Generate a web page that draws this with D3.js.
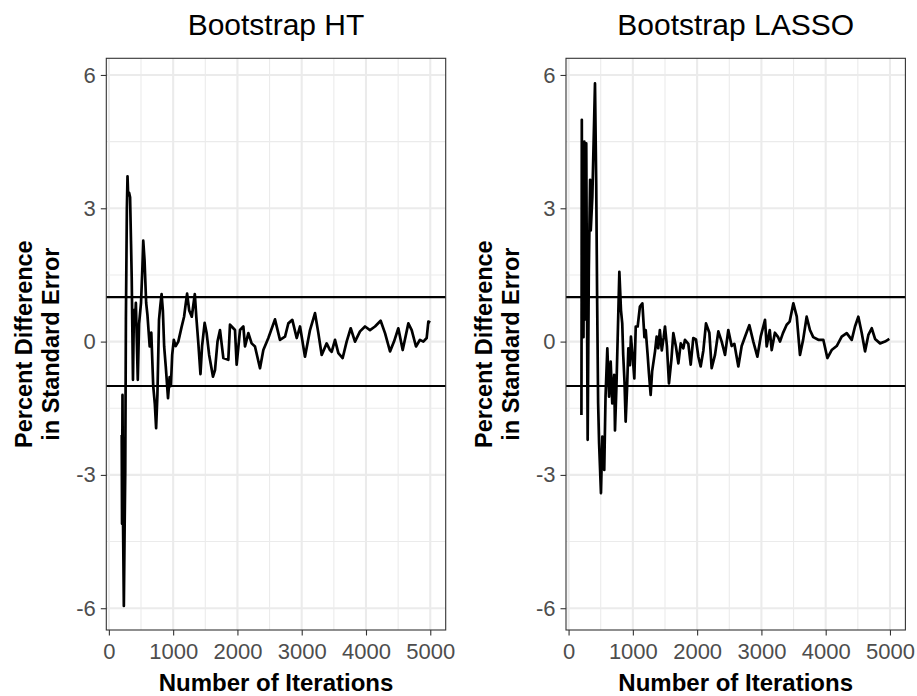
<!DOCTYPE html>
<html>
<head>
<meta charset="utf-8">
<script src="https://cdn.jsdelivr.net/npm/d3@7/dist/d3.min.js"></script>
<style>
  html, body { margin: 0; padding: 0; background: #fff; }
  svg { display: block; font-family: "Liberation Sans", Arial, Helvetica, sans-serif; }
</style>
</head>
<body>
<svg id="chart" width="917" height="696"></svg>
<script>
// ---- data ----
const panelTitles = ["Bootstrap HT", "Bootstrap LASSO"];
const xTicks = [0, 1000, 2000, 3000, 4000, 5000];
const xMinor = [500, 1500, 2500, 3500, 4500];
const yTicks = [-6, -3, 0, 3, 6];
const yMinor = [-4.5, -1.5, 1.5, 4.5];
const refLines = [-1, 1];
const xTitle = "Number of Iterations";
const yTitleLines = ["Percent Difference", "in Standard Error"];

const iterHT = [200,205,212,220,233,245,255,265,280,290,300,315,330,345,355,375,390,405,420,450,470,500,520,535,555,580,600,635,660,690,715,735,755,780,800,820,840,860,885,920,945,965,985,1010,1040,1080,1130,1170,1200,1217,1250,1290,1337,1360,1390,1425,1450,1490,1520,1560,1620,1651,1690,1729,1781,1858,1884,1962,1988,2040,2092,2118,2170,2221,2273,2351,2403,2481,2584,2662,2740,2792,2854,2922,2974,3051,3129,3207,3259,3311,3388,3440,3466,3518,3570,3637,3699,3762,3829,3907,3985,4062,4140,4228,4296,4374,4436,4503,4571,4659,4711,4778,4840,4892,4944,4970,5000];
const diffHT = [-2.1,-4.1,-1.2,-4.0,-5.95,-4.2,-2.9,0.5,3.0,3.72,3.3,3.35,3.25,2.2,1.46,-0.86,0.71,0.4,0.87,-0.86,0.4,0.87,1.6,2.27,1.83,0.87,0.6,-0.11,0.2,-1.0,-1.4,-1.95,-1.2,0.49,0.8,1.07,0.7,-0.11,-0.56,-1.27,-0.8,-1.0,-0.3,0.04,-0.1,0.0,0.32,0.56,0.9,1.08,0.7,0.56,1.07,0.56,0.0,-0.73,-0.1,0.42,0.2,-0.3,-0.79,-0.64,0.0,0.26,-0.37,-0.41,0.38,0.26,-0.52,0.26,0.34,-0.11,0.19,-0.04,-0.11,-0.6,-0.19,0.08,0.5,0.04,0.11,0.41,0.49,0.08,0.34,-0.34,0.26,0.64,0.19,-0.3,-0.04,-0.19,-0.23,0.04,-0.26,-0.37,0.0,0.3,0.0,0.23,0.34,0.26,0.34,0.47,0.19,-0.22,0.0,0.3,-0.19,0.41,0.26,-0.11,0.04,0.0,0.08,0.45,0.43];

const iterLASSO = [200,203,206,212,222,232,245,262,275,297,315,335,345,370,411,430,445,460,475,504,525,555,575,603,630,655,680,710,722,745,775,790,815,835,850,870,888,910,930,955,970,995,1023,1045,1075,1110,1148,1180,1200,1230,1250,1277,1300,1345,1370,1395,1420,1450,1480,1500,1530,1562,1600,1630,1670,1708,1745,1785,1811,1863,1900,1940,1982,2019,2055,2097,2138,2190,2226,2278,2330,2382,2434,2485,2537,2579,2641,2693,2745,2812,2874,2937,2989,3056,3082,3130,3160,3210,3260,3289,3335,3393,3440,3497,3550,3600,3650,3704,3755,3806,3885,3963,4026,4093,4171,4249,4327,4405,4456,4508,4560,4612,4664,4716,4768,4846,4923,4990];
const diffLASSO = [-1.65,0.9,4.99,0.86,4.4,0.1,4.5,0.5,4.46,-2.21,1.61,3.64,2.5,3.26,5.81,3.56,0.86,-1.39,-2.29,-3.41,-2.14,-2.89,-1.24,-0.15,-1.24,-0.45,-1.39,-0.75,-2.0,-1.0,0.71,1.57,0.71,0.41,-0.3,-0.9,-1.8,-1.05,-0.15,-0.53,0.11,-0.3,-0.83,0.34,0.34,0.79,0.86,0.1,0.26,-0.3,-0.71,-1.2,-0.67,-0.22,0.11,-0.15,0.26,-0.2,0.1,0.34,-0.1,-0.94,-0.4,0.19,-0.11,-0.49,-0.04,-0.15,0.04,-0.05,-0.52,0.08,0.05,-0.34,-0.56,-0.2,0.41,0.2,-0.6,-0.3,0.23,0.0,-0.3,0.26,-0.1,-0.05,-0.56,-0.1,0.11,0.37,0.0,-0.34,0.11,0.49,-0.11,0.26,-0.19,0.2,0.1,0.0,0.19,0.38,0.45,0.86,0.56,-0.3,0.05,0.56,0.26,0.1,0.04,0.04,-0.37,-0.19,-0.1,0.11,0.19,0.04,0.34,0.56,0.2,-0.22,0.15,0.3,0.06,-0.04,0.0,0.06];

const panelIters = [iterHT, iterLASSO];
const panelDiffs = [diffHT, diffLASSO];

// ---- layout ----
const svg = d3.select("#chart");
const W = 917, H = 696;
svg.append("rect").attr("width", W).attr("height", H).attr("fill", "#fff");

const panelW = 339.4, panelH = 571.7, panelTop = 58.3;
const panelLefts = [106.3, 566.0];

const x = d3.scaleLinear().domain([-40, 5240]).range([0, panelW]);
const y = d3.scaleLinear().domain([-6.49, 6.375]).range([panelH, 0]);

const gridColor = "#EBEBEB";
const txtColor = "#4D4D4D";

panelLefts.forEach((left, i) => {
  const g = svg.append("g").attr("transform", `translate(${left},${panelTop})`);

  // minor grid
  g.selectAll(".vminor").data(xMinor).enter().append("line")
    .attr("x1", d => x(d)).attr("x2", d => x(d)).attr("y1", 0).attr("y2", panelH)
    .attr("stroke", gridColor).attr("stroke-width", 1.1);
  g.selectAll(".hminor").data(yMinor).enter().append("line")
    .attr("x1", 0).attr("x2", panelW).attr("y1", d => y(d)).attr("y2", d => y(d))
    .attr("stroke", gridColor).attr("stroke-width", 1.1);
  // major grid
  g.selectAll(".vmajor").data(xTicks).enter().append("line")
    .attr("x1", d => x(d)).attr("x2", d => x(d)).attr("y1", 0).attr("y2", panelH)
    .attr("stroke", gridColor).attr("stroke-width", 2.1);
  g.selectAll(".hmajor").data(yTicks).enter().append("line")
    .attr("x1", 0).attr("x2", panelW).attr("y1", d => y(d)).attr("y2", d => y(d))
    .attr("stroke", gridColor).attr("stroke-width", 2.1);

  // reference lines
  g.selectAll(".ref").data(refLines).enter().append("line")
    .attr("x1", 0).attr("x2", panelW).attr("y1", d => y(d)).attr("y2", d => y(d))
    .attr("stroke", "#000").attr("stroke-width", 2.1);

  // data line
  const its = panelIters[i], vals = panelDiffs[i];
  const pts = its.map((it, k) => [it, vals[k]]);
  const line = d3.line().x(d => x(d[0])).y(d => y(d[1]));
  g.append("path").datum(pts).attr("d", line)
    .attr("fill", "none").attr("stroke", "#000").attr("stroke-width", 2.7)
    .attr("stroke-linejoin", "round");

  // border
  g.append("rect").attr("x", 0).attr("y", 0).attr("width", panelW).attr("height", panelH)
    .attr("fill", "none").attr("stroke", "#333333").attr("stroke-width", 1.1);

  // axes
  const ya = g.append("g").call(d3.axisLeft(y).tickValues(yTicks).tickFormat(d3.format("d")).tickSize(5.5).tickPadding(5));
  ya.select(".domain").remove();
  ya.selectAll(".tick line").attr("stroke", "#333333").attr("stroke-width", 1.1);
  ya.selectAll(".tick text").attr("fill", txtColor).style("font-size", "22px")
    .text(d => d < 0 ? "-" + Math.abs(d) : d);

  const xa = g.append("g").attr("transform", `translate(0,${panelH})`)
    .call(d3.axisBottom(x).tickValues(xTicks).tickFormat(d3.format("d")).tickSize(5.5).tickPadding(8));
  xa.select(".domain").remove();
  xa.selectAll(".tick line").attr("stroke", "#333333").attr("stroke-width", 1.1);
  xa.selectAll(".tick text").attr("fill", txtColor).style("font-size", "22px");

  // title
  svg.append("text").attr("x", left + panelW / 2).attr("y", 35)
    .attr("text-anchor", "middle").style("font-size", "30px").attr("fill", "#000")
    .text(panelTitles[i]);

  // x title
  svg.append("text").attr("x", left + panelW / 2).attr("y", 691)
    .attr("text-anchor", "middle").style("font-size", "24px").style("font-weight", "bold")
    .attr("fill", "#000").text(xTitle);

  // y title (two lines)
  const cy = panelTop + panelH / 2;
  const baseX = left - 74.3;
  yTitleLines.forEach((t, k) => {
    const bx = baseX + k * 26.8;
    svg.append("text").attr("transform", `translate(${bx},${cy}) rotate(-90)`)
      .attr("text-anchor", "middle").style("font-size", "23.5px").style("font-weight", "bold")
      .attr("fill", "#000").text(t);
  });
});
</script>
</body>
</html>
